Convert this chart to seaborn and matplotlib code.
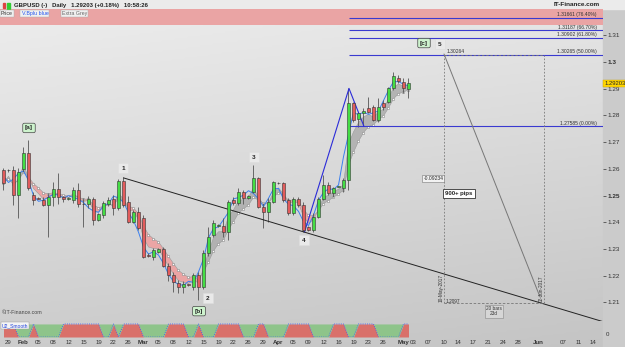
import matplotlib
matplotlib.use("Agg")
import matplotlib.pyplot as plt
from matplotlib.colors import LinearSegmentedColormap
from matplotlib.patches import Rectangle
import numpy as np
import pandas as pd
import seaborn as sns

# GBPUSD daily, bar 0 = Sunday 29 Jan 2017, six bars a week (Sun..Fri)
bar_idx = list(range(-1, 81))
opens = [1.2596, 1.2594, 1.2596, 1.2502, 1.2598, 1.2660, 1.2502, 1.2490, 1.2483, 1.2464,
         1.2496, 1.2523, 1.2493, 1.2486, 1.2483, 1.2521, 1.2470, 1.2468, 1.2486, 1.2408,
         1.2428, 1.2470, 1.2486, 1.2452, 1.2556, 1.2477, 1.2402, 1.2440, 1.2415, 1.2278,
         1.2271, 1.2290, 1.2299, 1.2236, 1.2202, 1.2174, 1.2156, 1.2167, 1.2159, 1.2202,
         1.2156, 1.2284, 1.2352, 1.2387, 1.2384, 1.2365, 1.2483, 1.2471, 1.2515, 1.2490,
         1.2515, 1.2564, 1.2458, 1.2440, 1.2477, 1.2548, 1.2548, 1.2483, 1.2433, 1.2486,
         1.2465, 1.2383, 1.2371, 1.2421, 1.2486, 1.2540, 1.2508, 1.2533, 1.2527, 1.2558,
         1.2845, 1.2785, 1.2808, 1.2826, 1.2833, 1.2783, 1.2845, 1.2852, 1.2901, 1.2939,
         1.2926, 1.2899]
highs = [1.2602, 1.2598, 1.2610, 1.2602, 1.2683, 1.2708, 1.2515, 1.2493, 1.2495, 1.2510,
         1.2552, 1.2583, 1.2500, 1.2493, 1.2533, 1.2548, 1.2490, 1.2500, 1.2496, 1.2436,
         1.2478, 1.2495, 1.2502, 1.2560, 1.2568, 1.2500, 1.2446, 1.2458, 1.2427, 1.2284,
         1.2302, 1.2302, 1.2308, 1.2246, 1.2215, 1.2184, 1.2178, 1.2170, 1.2209, 1.2215,
         1.2296, 1.2383, 1.2408, 1.2393, 1.2415, 1.2483, 1.2496, 1.2527, 1.2520, 1.2503,
         1.2614, 1.2571, 1.2471, 1.2490, 1.2556, 1.2552, 1.2552, 1.2490, 1.2493, 1.2496,
         1.2477, 1.2386, 1.2433, 1.2496, 1.2577, 1.2552, 1.2533, 1.2536, 1.2564, 1.2901,
         1.2852, 1.2814, 1.2826, 1.2870, 1.2838, 1.2864, 1.2858, 1.2908, 1.2964, 1.2951,
         1.2939, 1.2939]
lows = [1.2521, 1.2588, 1.2465, 1.2415, 1.2589, 1.2521, 1.2465, 1.2486, 1.2459, 1.2346,
        1.2459, 1.2470, 1.2475, 1.2483, 1.2471, 1.2458, 1.2383, 1.2455, 1.2390, 1.2404,
        1.2416, 1.2460, 1.2427, 1.2446, 1.2458, 1.2396, 1.2396, 1.2371, 1.2265, 1.2268,
        1.2259, 1.2285, 1.2234, 1.2178, 1.2140, 1.2134, 1.2134, 1.2162, 1.2146, 1.2109,
        1.2150, 1.2272, 1.2346, 1.2381, 1.2346, 1.2334, 1.2465, 1.2465, 1.2468, 1.2486,
        1.2508, 1.2452, 1.2377, 1.2402, 1.2471, 1.2543, 1.2477, 1.2427, 1.2427, 1.2458,
        1.2365, 1.2368, 1.2365, 1.2415, 1.2483, 1.2502, 1.2496, 1.2530, 1.2515, 1.2521,
        1.2777, 1.2758, 1.27585, 1.2808, 1.2779, 1.2777, 1.2820, 1.2845, 1.2895, 1.2920,
        1.2883, 1.2864]
closes = [1.2548, 1.2596, 1.2502, 1.2589, 1.2660, 1.2527, 1.2483, 1.2488, 1.2464, 1.2496,
          1.2523, 1.2496, 1.2486, 1.2490, 1.2521, 1.2468, 1.2468, 1.2486, 1.2408, 1.2431,
          1.2472, 1.2485, 1.2452, 1.2556, 1.2465, 1.2402, 1.2440, 1.2377, 1.2271, 1.2274,
          1.2296, 1.2299, 1.2236, 1.2202, 1.2177, 1.2156, 1.2169, 1.2165, 1.2202, 1.2156,
          1.2284, 1.2346, 1.2396, 1.2387, 1.2365, 1.2477, 1.2471, 1.2515, 1.2490, 1.2500,
          1.2564, 1.2458, 1.2440, 1.2477, 1.2552, 1.2545, 1.2483, 1.2433, 1.2486, 1.2465,
          1.2371, 1.2371, 1.2421, 1.2486, 1.2540, 1.2508, 1.2527, 1.2533, 1.2558, 1.2845,
          1.2783, 1.2808, 1.2815, 1.2814, 1.2783, 1.2833, 1.2833, 1.2901, 1.2948, 1.2930,
          1.2901, 1.2920]

# U2_Smooth state per bar (1 = red, 0 = green)
u2_state = [1, 1, 1, 0, 0, 0, 1, 0, 0, 0, 0, 0, 1, 1, 1, 1, 1, 1, 1, 1,
            0, 0, 1, 0, 1, 1, 1, 1, 0, 0, 0, 0, 0, 1, 1, 1, 1, 0, 0, 1,
            0, 0, 0, 1, 1, 1, 1, 1, 0, 0, 0, 1, 1, 0, 0, 0, 0, 1, 1, 1,
            1, 1, 0, 0, 0, 0, 1, 1, 1, 0, 0, 1, 1, 1, 1, 0, 0, 0, 0, 0,
            1, 1]

tick_pos = [0, 3, 6, 9, 12, 15, 18, 21, 24, 27, 30, 33, 36, 39, 42, 45, 48, 51, 54, 57,
            60, 63, 66, 69, 72, 75, 79, 81, 84, 87, 90, 93, 96, 99, 102, 106, 111, 114, 117]
tick_lab = ["29", "Feb", "05", "08", "12", "15", "19", "22", "26", "Mar", "05", "08", "12",
            "15", "19", "22", "26", "29", "Apr", "05", "09", "12", "16", "19", "23", "26",
            "May", "03", "07", "10", "14", "17", "21", "24", "28", "Jun", "07", "11", "14"]
months = ["Feb", "Mar", "Apr", "May", "Jun"]

price_ticks = [1.21, 1.22, 1.23, 1.24, 1.25, 1.26, 1.27, 1.28, 1.29, 1.30, 1.31]
price_labs = ["1.21", "1.22", "1.23", "1.24", "1.25", "1.26", "1.27", "1.28", "1.29", "1.3", "1.31"]

fib_prices = [1.31661, 1.31187, 1.30902, 1.30265, 1.27585]
fib_labels = ["1.31661 (76.40%)", "1.31187 (66.70%)", "1.30902 (61.80%)",
              "1.30265 (50.00%)", "1.27585 (0.00%)"]

wave_x = [22.9, 39.9, 49.1, 59.1, 86.3]
wave_y = [1.2603, 1.2116, 1.2644, 1.2333, 1.3067]
wave_txt = ["1", "2", "3", "4", "5"]
abc_x = [4.1, 38.1, 83.1]
abc_y = [1.2753, 1.2067, 1.3071]
abc_txt = ["[a]", "[b]", "[c]"]

zig_x = [59.2, 68.1, 71.1]
zig_y = [1.2363, 1.2901, 1.27585]
trend_x = [23.0, 119.0]
trend_y = [1.2566, 1.2027]
proj_x = [87.1, 106.3]
proj_y = [1.3030, 1.2120]
box_left, box_right = 87.1, 107.2
box_top, box_bottom = 1.30264, 1.2096

sns.set_theme(style="white")
plt.rcParams["font.family"] = ["Liberation Sans", "DejaVu Sans"]

W, H = 625, 347
fig = plt.figure(figsize=(6.25, 3.47), dpi=100)


def rect(x0, y0, x1, y1):
    return [x0 / W, 1 - y1 / H, (x1 - x0) / W, (y1 - y0) / H]


# background gradient
bg = fig.add_axes([0, 0, 1, 1], zorder=-1)
v = np.linspace(0, 1, 200).reshape(-1, 1)
h = np.linspace(0, 1, 200).reshape(1, -1)
grad = 0.8 * v + 0.2 * h
cmap = LinearSegmentedColormap.from_list("bg", ["#eeeeee", "#c4c4c4"])
bg.imshow(grad, cmap=cmap, aspect="auto", extent=[0, 1, 0, 1], vmin=0, vmax=1)
bg.add_patch(Rectangle((603 / W, 0), 22 / W, 1 - 10 / H, color="#cbcbcb", zorder=2))
bg.add_patch(Rectangle((0, 1 - 9 / H), 1, 9 / H, color="#ebebeb", zorder=2))
bg.set_xlim(0, 1)
bg.set_ylim(0, 1)
bg.axis("off")

ax = fig.add_axes(rect(0, 9, 603, 321))
ax.patch.set_alpha(0)
ind = fig.add_axes(rect(0, 322, 603, 337))
ind.patch.set_alpha(0)

df = pd.DataFrame({"x": bar_idx, "o": opens, "h": highs, "l": lows, "c": closes})
x_min, x_max = -1.7, 118.9

# pink zone at the top
ax.axhspan(1.3139, 1.3200, color="#eaa4a4", zorder=0.5, lw=0)

# moving-average ribbon + fast line
band_a = df["c"].ewm(span=3, adjust=False).mean()
band_b = df["c"].ewm(span=6, adjust=False).mean()
ax.fill_between(df["x"], band_a, band_b, where=band_a < band_b, interpolate=True,
                color="#eea0a0", alpha=0.9, lw=0, zorder=1)
ax.fill_between(df["x"], band_a, band_b, where=band_a >= band_b, interpolate=True,
                color="#a9a9a9", alpha=0.8, lw=0, zorder=1)
ax.plot(df["x"], band_a, color="#9a9a9a", lw=0.4, zorder=1.1)
ax.plot(df["x"], band_b, color="#9a9a9a", lw=0.4, zorder=1.1)
ax.scatter(df["x"], band_b, s=3, marker="s", facecolor="white", edgecolor="#888888",
           linewidths=0.4, zorder=1.2)
blue = df["c"].rolling(3, center=True, min_periods=1).mean()
sns.lineplot(x=df["x"], y=blue, ax=ax, color="#3a7ff0", lw=0.7, zorder=1.3)

# candles
up = df["c"] >= df["o"]
ax.vlines(df["x"], df["l"], df["h"], color="#555555", lw=0.6, zorder=2)
body = (df["c"] - df["o"]).abs().clip(lower=0.00012)
ax.bar(df["x"], body, bottom=df[["o", "c"]].min(axis=1), width=0.74,
       color=np.where(up, "#44dd44", "#e25c5c"), edgecolor="#333333", linewidth=0.4, zorder=3)

# fibonacci levels
for p, lab in zip(fib_prices, fib_labels):
    ax.hlines(p, 68.1, x_max, color="#3a3ad0", lw=0.8, zorder=2.5)
    ax.text(117.7, p + 0.0003, lab, fontsize=3.6, ha="right", va="bottom", color="#333333", zorder=4)

# wave structure
sns.lineplot(x=zig_x, y=zig_y, ax=ax, color="#2b2bd8", lw=0.8, sort=False, zorder=2.6)
sns.lineplot(x=trend_x, y=trend_y, ax=ax, color="#222222", lw=0.7, sort=False, zorder=2.6)
sns.lineplot(x=proj_x, y=proj_y, ax=ax, color="#777777", lw=0.7, sort=False, zorder=2.6)
ax.vlines([box_left, box_right], box_bottom, box_top, color="#777777", lw=0.6,
          linestyles=(0, (2, 2)), zorder=2.6)
ax.hlines([box_bottom, box_top], box_left, box_right, color="#777777", lw=0.6,
          linestyles=(0, (3, 2)), zorder=2.6)

for xv, yv, t in zip(wave_x, wave_y, wave_txt):
    ax.text(xv, yv, t, fontsize=4.6, fontweight="bold", ha="center", va="center", zorder=5,
            bbox=dict(boxstyle="square,pad=0.45", fc="#e9e9e9", ec="#dddddd", lw=0.4))
for xv, yv, t in zip(abc_x, abc_y, abc_txt):
    ax.text(xv, yv, t, fontsize=4.6, fontweight="bold", ha="center", va="center", zorder=5,
            bbox=dict(boxstyle="round,pad=0.35,rounding_size=0.25", fc="#cdf3cd", ec="#444444", lw=0.5))

ax.text(87.6, 1.3030, "1.30264", fontsize=3.6, ha="left", va="bottom", color="#333333", zorder=5)
ax.text(85.0, 1.2562, "-0.09234", fontsize=3.6, ha="center", va="center", zorder=5,
        bbox=dict(boxstyle="square,pad=0.2", fc="#f2f2f2", ec="#777777", lw=0.4))
ax.text(90.1, 1.25075, "900+ pips", fontsize=4.3, fontweight="bold", ha="center", va="center", zorder=5,
        bbox=dict(boxstyle="square,pad=0.35", fc="#ffffff", ec="#333333", lw=0.6))
ax.text(86.5, 1.2100, "10-May-2017", fontsize=3.4, rotation=90, ha="center", va="bottom",
        color="#333333", zorder=5)
ax.text(106.6, 1.2100, "02-Jun-2017", fontsize=3.4, rotation=90, ha="center", va="bottom",
        color="#333333", zorder=5)
ax.text(87.5, 1.2104, "1.2097", fontsize=3.4, ha="left", va="center", color="#333333", zorder=5)
ax.text(97.1, 1.2067, "20 bars\n23d", fontsize=3.4, ha="center", va="center", linespacing=1.1,
        color="#333333", zorder=5,
        bbox=dict(boxstyle="square,pad=0.3", fc="#d6d6d6", ec="#888888", lw=0.4))
ax.text(0.003, 0.02, "\u00a9IT-Finance.com", transform=ax.transAxes, fontsize=3.8,
        color="#444444", ha="left", va="bottom")

ax.set_xlim(x_min, x_max)
ax.set_ylim(1.2030, 1.31985)
ax.set_xticks([])
ax.yaxis.tick_right()
ax.set_yticks(price_ticks)
ax.set_yticklabels(price_labs)
ax.tick_params(axis="y", right=True, length=2, width=0.5, pad=1.5, labelsize=4.6,
               colors="#333333")
for lab in ax.get_yticklabels():
    if lab.get_text() in ("1.3", "1.25"):
        lab.set_fontweight("bold")
for s in ax.spines.values():
    s.set_visible(False)
ax.text(1.002, (1.29203 - 1.2030) / (1.31985 - 1.2030), "1.29203", transform=ax.transAxes,
        fontsize=4.2, ha="left", va="center", zorder=6,
        bbox=dict(boxstyle="square,pad=0.15", fc="#ffd500", ec="#c8a000", lw=0.3))

# U2_Smooth panel
st = pd.Series(u2_state, dtype=float)
ind.fill_between(df["x"], 0, st, color="#d9706a", lw=0)
ind.fill_between(df["x"], st, 1, color="#8ec48a", lw=0)
sns.lineplot(x=df["x"], y=st, ax=ind, color="#3355ff", lw=0.6, linestyle=":")
ind.text(0.003, 0.93, "U2_Smooth", transform=ind.transAxes, fontsize=3.6, color="#2244dd",
         ha="left", va="top", bbox=dict(boxstyle="square,pad=0.15", fc="#f4f4f4", ec="#999999", lw=0.3))
ind.set_xlim(x_min, x_max)
ind.set_ylim(0, 1.15)
ind.set_yticks([])
ind.set_xticks(tick_pos)
ind.set_xticklabels(tick_lab)
ind.tick_params(axis="x", length=0, pad=2.5, labelsize=4.4, colors="#333333")
for lab in ind.get_xticklabels():
    if lab.get_text() in months:
        lab.set_fontweight("bold")
for s in ind.spines.values():
    s.set_visible(False)
ind.set_xlabel("")
ind.set_ylabel("")
ax.set_xlabel("")
ax.set_ylabel("")

# header texts
fig.text(14 / W, 1 - 5 / H, "GBPUSD (-)   Daily   1.29203 (+0.18%)   10:58:26", fontsize=4.3,
         fontweight="bold", ha="left", va="center", color="#222222")
fig.add_artist(Rectangle((3 / W, 1 - 8 / H), 2.5 / W, 5 / H, color="#d44", transform=fig.transFigure))
fig.add_artist(Rectangle((7 / W, 1 - 8.5 / H), 2.5 / W, 6 / H, color="#3c3", transform=fig.transFigure))
fig.text(600 / W, 1 - 4.5 / H, "IT-Finance.com", fontsize=4.6, fontweight="bold", ha="right",
         va="center", color="#222222")
x0 = 1
for t, col in [("Price", "#333333"), ("V.Bplu blue", "#2255ee"), ("Extra Grey", "#666666")]:
    txt = fig.text(x0 / W, 1 - 13.5 / H, t, fontsize=3.8, ha="left", va="center", color=col,
                   bbox=dict(boxstyle="square,pad=0.2", fc="#f0f0f0", ec="#aaaaaa", lw=0.3))
    x0 += len(t) * 3.3 + 4
fig.text(606 / W, 1 - 334 / H, "0", fontsize=4.4, ha="left", va="center", color="#333333")

fig.savefig("out.png", dpi=100)
